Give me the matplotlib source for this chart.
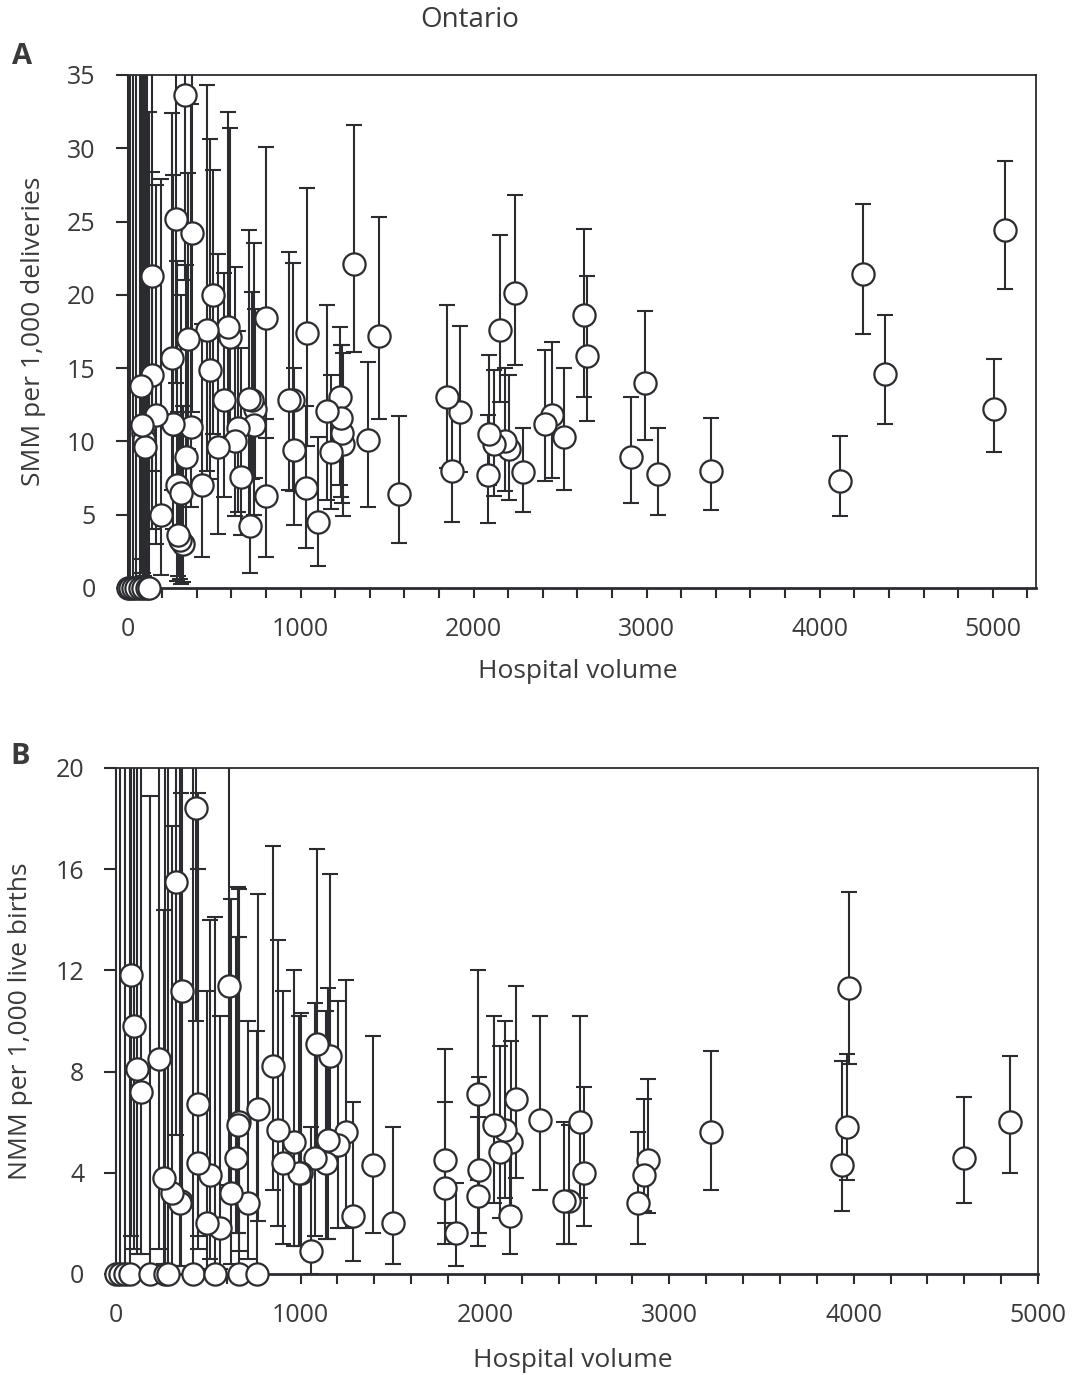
import numpy as np
import matplotlib
matplotlib.use("Agg")
import matplotlib.pyplot as plt

plt.rcParams['font.family'] = ['Open Sans', 'DejaVu Sans']

# Panel A: SMM per 1,000 deliveries (x = hospital volume, y = rate, lo/hi = CI)
smm_x = [5070, 5005, 4250, 4380, 4115, 3370, 3065, 2990, 2910, 2640, 2655, 2520, 2455, 2410,
         2285, 2240, 2205, 2180, 2155, 2120, 2090, 2080, 1920, 1875, 1845, 1570, 1455, 1390,
         1310, 1245, 1230, 1240, 1235, 1175, 1150, 1100, 1030, 1035, 955, 960, 930, 800, 800,
         735, 720, 730, 700, 710, 655, 640, 620, 590, 580, 555, 525, 495, 475, 460, 430, 365,
         350, 340, 330, 370, 280, 260, 255, 285, 310, 320, 300, 290, 195, 165, 140, 140, 80,
         90, 95, 100, 85,
         0, 15, 30, 50, 70, 90, 110, 125]
smm_y = [24.4, 12.2, 21.4, 14.6, 7.3, 8.0, 7.8, 14.0, 8.9, 18.6, 15.8, 10.3, 11.8, 11.2,
         7.9, 20.1, 9.5, 10.0, 17.6, 9.8, 10.5, 7.7, 12.0, 8.0, 13.0, 6.4, 17.2, 10.1,
         22.1, 9.8, 13.0, 10.6, 11.6, 9.3, 12.1, 4.5, 6.8, 17.4, 12.8, 9.4, 12.8, 18.4, 6.3,
         12.2, 12.8, 11.1, 12.9, 4.2, 7.6, 10.9, 10.0, 17.1, 17.8, 12.8, 9.6, 20.0, 14.9, 17.6, 7.0, 11.0,
         17.0, 8.9, 33.6, 24.2, 25.2, 11.2, 15.7, 7.0, 6.5, 3.0, 3.3, 3.6, 5.0, 11.8, 21.3, 14.5, 13.8,
         10.6, 10.1, 9.6, 11.1,
         0, 0, 0, 0, 0, 0, 0, 0]
smm_lo = [20.4, 9.3, 17.3, 11.2, 4.9, 5.3, 5.0, 10.1, 5.8, 13.0, 11.4, 6.7, 7.5, 7.3,
          5.2, 15.2, 6.0, 6.6, 12.7, 6.3, 7.0, 4.4, 7.9, 4.5, 8.2, 3.1, 11.5, 5.5,
          16.1, 4.9, 7.0, 5.8, 6.2, 5.4, 6.0, 1.5, 2.7, 9.7, 6.6, 4.3, 6.7, 10.2, 2.1,
          7.5, 7.4, 5.0, 4.5, 1.0, 3.6, 5.2, 4.9, 9.6, 9.9, 6.2, 3.7, 10.5, 7.4, 8.0, 2.1, 5.5,
          9.5, 3.2, 21.0, 12.0, 14.0, 4.0, 6.7, 0.5, 0.3, 0.4, 0.6, 0.8, 0.9, 3.0, 8.0, 4.0, 2.0,
          1.0, 0.8, 0.5, 1.0,
          0, 0, 0, 0, 0, 0, 0, 0]
smm_hi = [29.1, 15.6, 26.2, 18.6, 10.4, 11.6, 10.9, 18.9, 13.0, 24.5, 21.3, 15.0, 16.8, 16.2,
          10.9, 26.8, 14.5, 15.0, 24.1, 14.9, 15.9, 11.8, 17.9, 12.7, 19.3, 11.7, 25.3, 15.4,
          31.6, 16.0, 17.8, 16.6, 16.6, 14.5, 19.3, 10.3, 12.4, 27.3, 22.2, 15.0, 22.9, 30.1, 11.5,
          19.0, 20.2, 23.5, 24.4, 13.0, 16.4, 17.5, 21.9, 31.4, 32.5, 21.5, 22.8, 28.5, 30.6, 34.3, 18.0, 33.0,
          28.3, 22.0, 45.0, 40.0, 40.0, 28.2, 32.4, 22.3, 20.0, 12.4, 10.4, 12.0, 27.9, 27.5, 40.0, 28.4, 45.0,
          40.0, 40.0, 40.0, 45.0,
          50, 55, 60, 50, 45, 60, 50, 32.5]

# Panel B: NMM per 1,000 live births
nmm_x = [4850, 4600, 3975, 3965, 3935, 3225, 2885, 2860, 2830, 2535, 2515, 2455, 2430, 2300,
         2170, 2140, 2135, 2110, 2080, 2050, 1960, 1965, 1960, 1845, 1785, 1785, 1500, 1395,
         1285, 1245, 1205, 1160, 1150, 1140, 1090, 1080, 1055, 1000, 990, 965, 905, 875, 850,
         770, 715, 665, 660, 650, 625, 610, 560, 510, 490, 445, 445, 430, 355, 350, 345, 325,
         305, 260, 230, 135, 115, 95, 80,
         0, 20, 45, 75, 185, 265, 280, 415, 535, 665, 765]
nmm_y = [6.0, 4.6, 11.3, 5.8, 4.3, 5.6, 4.5, 3.9, 2.8, 4.0, 6.0, 2.9, 2.9, 6.1,
         6.9, 5.2, 2.3, 5.7, 4.8, 5.9, 3.1, 4.1, 7.1, 1.6, 3.4, 4.5, 2.0, 4.3,
         2.3, 5.6, 5.1, 8.6, 5.3, 4.4, 9.1, 4.6, 0.9, 4.0, 4.0, 5.2, 4.4, 5.7, 8.2,
         6.5, 2.8, 6.0, 5.9, 4.6, 3.2, 11.4, 1.8, 3.9, 2.0, 6.7, 4.4, 18.4, 11.2, 2.9, 2.8, 15.5,
         3.2, 3.8, 8.5, 7.2, 8.1, 9.8, 11.8,
         0, 0, 0, 0, 0, 0, 0, 0, 0, 0, 0]
nmm_lo = [4.0, 2.8, 8.3, 3.7, 2.5, 3.3, 2.4, 2.5, 1.2, 1.9, 3.0, 1.2, 1.2, 3.3,
          3.8, 2.6, 0.8, 3.0, 2.2, 2.8, 1.1, 1.6, 3.7, 0.3, 1.2, 2.0, 0.4, 1.6,
          0.5, 1.8, 1.8, 4.3, 1.4, 1.4, 4.6, 1.5, 0.0, 1.1, 1.1, 1.1, 1.2, 1.9, 3.3,
          2.1, 0.6, 0.9, 1.6, 1.6, 0.4, 3.5, 0.2, 0.6, 0.2, 1.5, 1.0, 10.0, 2.5, 0.3, 0.3, 5.5,
          0.3, 0.4, 1.0, 0.8, 0.8, 1.0, 1.5,
          0, 0, 0, 0, 0, 0, 0, 0, 0, 0, 0]
nmm_hi = [8.6, 7.0, 15.1, 8.7, 8.4, 8.8, 7.7, 6.9, 5.6, 7.4, 10.2, 5.9, 6.0, 10.2,
          11.4, 9.2, 5.1, 10.0, 9.0, 10.2, 6.2, 7.8, 12.0, 3.6, 6.8, 8.9, 5.8, 9.4,
          6.8, 11.6, 10.8, 15.8, 11.3, 10.4, 16.8, 10.7, 5.8, 10.3, 10.2, 12.0, 11.2, 13.2, 16.9,
          15.0, 10.0, 15.2, 15.3, 13.3, 14.8, 25.0, 10.2, 14.0, 11.2, 19.0, 16.0, 25.0, 22.0, 19.0, 22.0, 28.0,
          17.7, 14.4, 25.0, 35.0, 35.0, 35.0, 35.0,
          40, 40, 40, 40, 18.9, 22, 22, 22, 14.1, 13.3, 9.6]

ink = '#2b2c30'
txt = '#3a3a3a'


def panel(ax, x, y, lo, hi, xmin, xmax, ymax, ystep):
    x = np.array(x, float)
    y = np.array(y, float)
    lo = np.array(lo, float)
    hi = np.array(hi, float)
    ax.errorbar(x, y, yerr=[y - lo, hi - y], fmt='none', ecolor=ink,
                elinewidth=1.5, capsize=6, capthick=1.5, zorder=2)
    ax.plot(x, y, 'o', ms=16, mfc='white', mec=ink, mew=1.6,
            clip_on=False, zorder=3)
    ax.set_xlim(xmin, xmax)
    ax.set_ylim(0, ymax)
    ax.spines['left'].set_position(('data', 0))
    for s in ax.spines.values():
        s.set_color(ink)
        s.set_linewidth(1.3)
    ax.spines['bottom'].set_linewidth(2)
    ticks = np.arange(0, min(xmax, 5200) + 1, 200)
    ax.set_xticks(ticks)
    ax.set_xticklabels([str(int(t)) if t % 1000 == 0 else '' for t in ticks])
    ax.set_yticks(np.arange(0, ymax + 0.1, ystep))
    ax.tick_params(axis='both', direction='out', colors=ink, labelcolor=txt,
                   labelsize=18, width=1.5)
    ax.tick_params(axis='x', length=7, pad=14)
    ax.tick_params(axis='y', length=9, pad=14)


fig = plt.figure(figsize=(10.77, 13.75), dpi=100)

axA = fig.add_axes([0.1105, 0.5724, 0.8514, 0.3731])
panel(axA, smm_x, smm_y, smm_lo, smm_hi, -50, 5250, 35, 5)
axA.set_xlabel('Hospital volume', fontsize=19, color=txt, labelpad=12)
axA.set_ylabel('SMM per 1,000 deliveries', fontsize=19, color=txt)
axA.yaxis.set_label_coords(-0.080, 0.5)

axB = fig.add_axes([0.0994, 0.0735, 0.8644, 0.368])
panel(axB, nmm_x, nmm_y, nmm_lo, nmm_hi, -50, 5000, 20, 4)
axB.set_xlabel('Hospital volume', fontsize=19, color=txt, labelpad=14)
axB.set_ylabel('NMM per 1,000 live births', fontsize=19, color=txt)
axB.yaxis.set_label_coords(-0.080, 0.5)

fig.text(470 / 1077, 1 - 20 / 1375, 'Ontario', fontsize=20, color=txt,
         ha='center', va='center')
fig.text(22 / 1077, 1 - 57 / 1375, 'A', fontsize=21, fontweight='bold',
         color=txt, ha='center', va='center')
fig.text(20 / 1077, 1 - 757 / 1375, 'B', fontsize=21, fontweight='bold',
         color=txt, ha='center', va='center')

fig.savefig('out.png', dpi=100)
